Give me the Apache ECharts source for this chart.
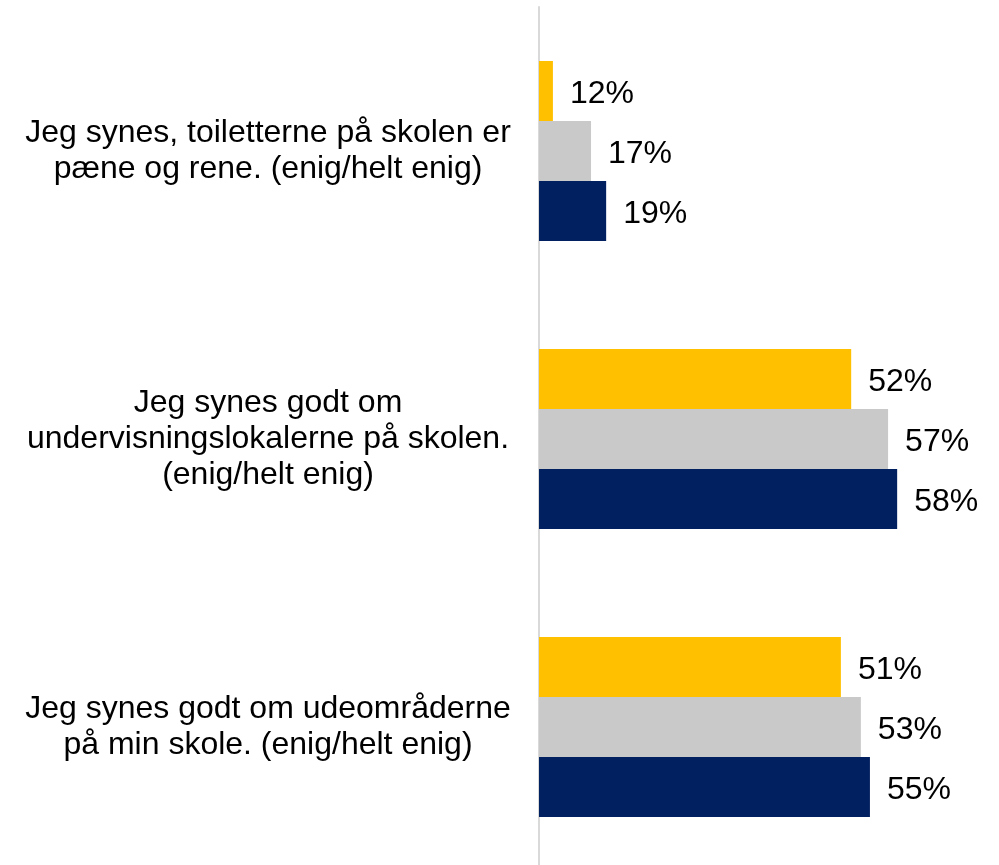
<!DOCTYPE html>
<html>
<head>
<meta charset="utf-8">
<script src="https://cdn.jsdelivr.net/npm/echarts@6/dist/echarts.min.js"></script>
<style>html,body{margin:0;padding:0;background:#fff}#c{width:999px;height:865px}</style>
</head>
<body>
<div id="c"></div>
<script>
var categories = [
  'Jeg synes, toiletterne på skolen er\npæne og rene. (enig/helt enig)',
  'Jeg synes godt om\nundervisningslokalerne på skolen.\n(enig/helt enig)',
  'Jeg synes godt om udeområderne\npå min skole. (enig/helt enig)'
];
// bar lengths (percent)
var seriesA = [2.3, 51.6, 49.9];
var seriesB = [8.6, 57.7, 53.2];
var seriesC = [11.1, 59.2, 54.7];
// value labels as printed
var labelsA = ['12%', '52%', '51%'];
var labelsB = ['17%', '57%', '53%'];
var labelsC = ['19%', '58%', '55%'];

var colors = ['#FFC000', '#C9C9C9', '#002060'];
var font = 'Liberation Sans, Arial, sans-serif';

function mk(name, data, labels, color) {
  return {
    name: name, type: 'bar', data: data,
    barGap: '0%', barCategoryGap: '37.5%',
    itemStyle: { color: color },
    label: {
      show: true, position: 'right', distance: 17, offset: [0, 3],
      fontFamily: font, fontSize: 32, color: '#000',
      formatter: function (p) { return labels[p.dataIndex]; }
    },
    animation: false
  };
}

var chart = echarts.init(document.getElementById('c'));
chart.setOption({
  animation: false,
  grid: { left: 539, width: 423.5, top: 7, height: 864, containLabel: false, outerBoundsMode: 'none' },
  xAxis: { type: 'value', min: 0, max: 70, show: false },
  yAxis: {
    type: 'category', data: categories, inverse: true,
    axisLine: { show: true, lineStyle: { color: '#D9D9D9', width: 2 } },
    axisTick: { show: false },
    axisLabel: {
      fontFamily: font, fontSize: 32, color: '#000', lineHeight: 36,
      align: 'center', margin: 271
    }
  },
  series: [
    mk('A', seriesA, labelsA, colors[0]),
    mk('B', seriesB, labelsB, colors[1]),
    mk('C', seriesC, labelsC, colors[2])
  ]
});
</script>
</body>
</html>
